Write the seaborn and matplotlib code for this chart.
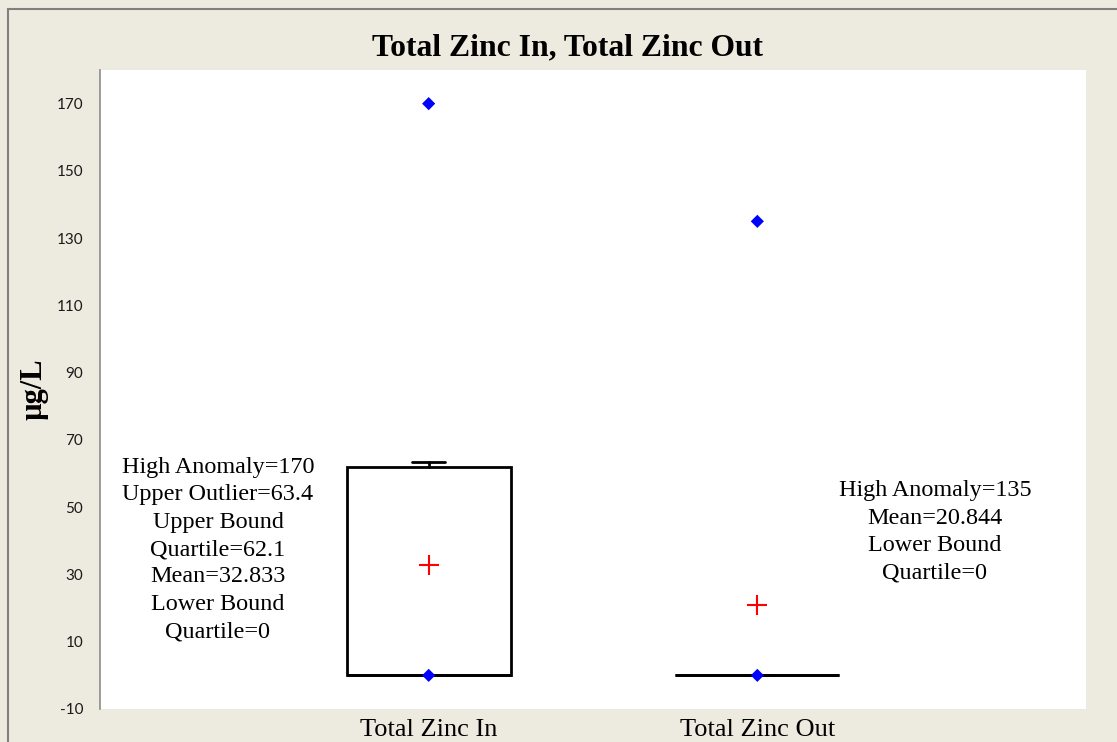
import numpy as np
import pandas as pd
import matplotlib.pyplot as plt
import seaborn as sns
from matplotlib.patches import Rectangle

groups = ["Total Zinc In", "Total Zinc Out"]
q1 = [0, 0]
median = [0, 0]
q3 = [62.1, 0]
whisker_low = [0, 0]
whisker_high = [63.4, 0]
means = [32.833, 20.844]

point_group = ["Total Zinc In", "Total Zinc In", "Total Zinc Out", "Total Zinc Out"]
point_vals = [170, 0, 135, 0]

notes = [
    "High Anomaly=170\nUpper Outlier=63.4\nUpper Bound\nQuartile=62.1\nMean=32.833\nLower Bound\nQuartile=0",
    "High Anomaly=135\nMean=20.844\nLower Bound\nQuartile=0",
]
yticks = list(range(-10, 171, 20))

bg = "#EDEAE0"
serif = ["Liberation Serif", "DejaVu Serif"]

sns.set_style("white")
plt.rcParams["font.family"] = ["Lato", "DejaVu Sans"]
plt.rcParams["text.color"] = "black"
plt.rcParams["axes.unicode_minus"] = False

fig = plt.figure(figsize=(11.17, 7.42), dpi=100, facecolor=bg)
ax = fig.add_axes([100 / 1117, 1 - 709 / 742, 986 / 1117, 639 / 742])
ax.set_facecolor("white")

# figure frame (top and left edges visible)
fig.patches.append(Rectangle((8 / 1117, -0.1), 1.2, 1 - 9 / 742 + 0.1, transform=fig.transFigure,
                             fill=False, edgecolor="#808080", linewidth=1.5, zorder=0))

stats = []
for i, g in enumerate(groups):
    stats.append({"label": g, "q1": q1[i], "med": median[i], "q3": q3[i],
                  "whislo": whisker_low[i], "whishi": whisker_high[i], "fliers": []})
ax.bxp(stats, positions=range(len(groups)), widths=0.5, capwidths=0.1,
       showfliers=False, patch_artist=True,
       boxprops=dict(facecolor="white", edgecolor="black", linewidth=2),
       whiskerprops=dict(color="black", linewidth=2),
       capprops=dict(color="black", linewidth=2),
       medianprops=dict(color="black", linewidth=2), zorder=2)

pts = pd.DataFrame({"group": point_group, "value": point_vals})
sns.scatterplot(data=pts, x="group", y="value", marker="D", s=45, color="#0000FF",
                edgecolor="none", ax=ax, zorder=4)
mdf = pd.DataFrame({"group": groups, "value": means})
sns.scatterplot(data=mdf, x="group", y="value", marker="+", s=200, color="#FF0000",
                linewidth=1.5, ax=ax, zorder=4)

ax.set_xlim(-1, 2)
ax.set_ylim(-10, 180)
ax.set_yticks(yticks)
ax.set_xticks(range(len(groups)))
ax.set_xticklabels(groups, fontsize=19, family=serif, color="black")
ax.tick_params(axis="x", length=0, pad=7)
ax.tick_params(axis="y", direction="inout", length=10, width=1, color="#8C8C8C",
               labelsize=11, labelcolor="#1a1a1a", pad=7)
for s in ["top", "right", "bottom"]:
    ax.spines[s].set_visible(False)
ax.spines["left"].set_color("#8C8C8C")
ax.spines["left"].set_linewidth(1.2)
ax.set_xlabel("")
ax.set_ylabel("")

ax.text(-0.641, 37.4, notes[0], ha="center", va="center", fontsize=17.4, family=serif,
        linespacing=1.4, color="black")
ax.text(1.54, 42.7, notes[1], ha="center", va="center", fontsize=17.4, family=serif,
        linespacing=1.4, color="black")

fig.text(568 / 1117, 1 - 48 / 742, "Total Zinc In, Total Zinc Out", ha="center", va="center",
         fontsize=22.8, fontweight="bold", family=serif, color="black")
fig.text(34 / 1117, 1 - 389 / 742, "µg/L", ha="center", va="center", rotation=90,
         fontsize=22, fontweight="bold", family=serif, color="black")

fig.savefig("out.png", dpi=100, facecolor=bg)
